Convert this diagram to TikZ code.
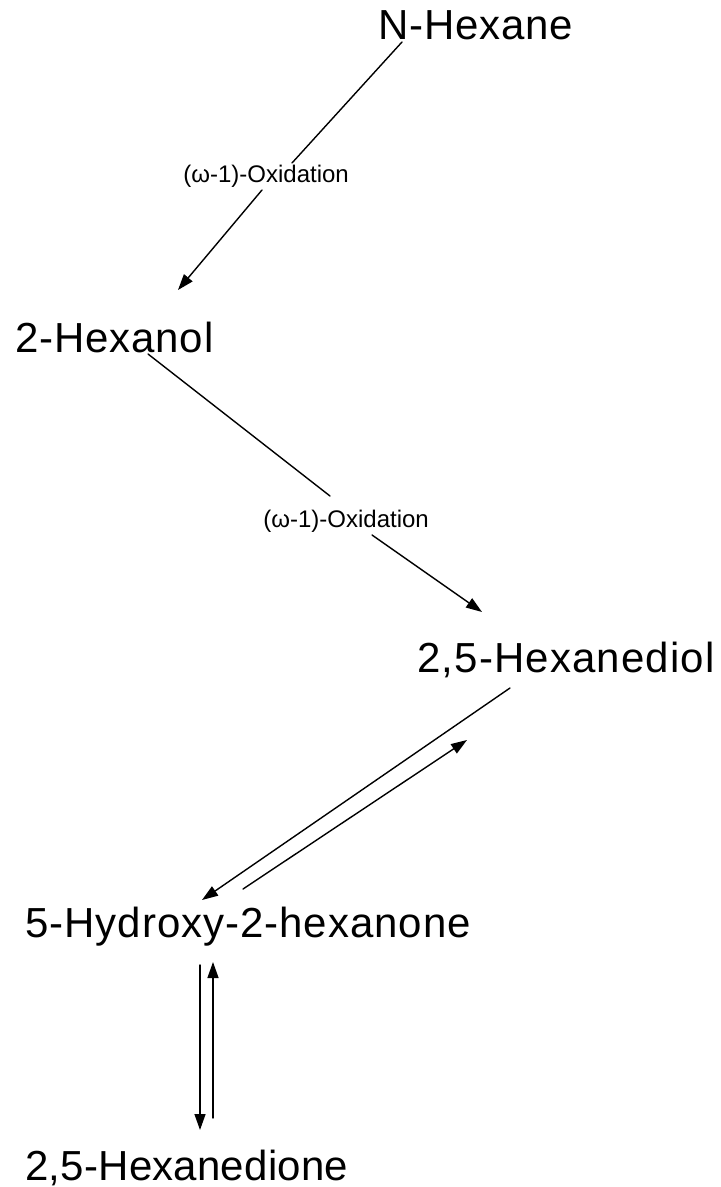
\documentclass[tikz,border=0pt]{standalone}
\usepackage{fontspec}
\setmainfont{Liberation Sans}
\usetikzlibrary{arrows.meta}
\tikzset{x=0.5pt,y=-0.5pt, >={Triangle[length=8pt,width=5.5pt]}}

\begin{document}
\begin{tikzpicture}
% Style
[
    line cap=round,
    compound/.style={anchor=base west, inner sep=0pt,
        font=\fontsize{21}{25}\selectfont\addfontfeature{LetterSpace=#1}},
    compound/.default=2,
    step text/.style={anchor=base west, inner sep=0pt, font=\fontsize{12}{14}\selectfont},
    step line/.style={line width=0.7pt}
]

%=================================== Start ===================================
{
    \useasboundingbox (0,0) rectangle (720,1187);

    % Define: Compounds
    \node[compound]      (nhexane) at (378,  40) {N-Hexane};
    \node[compound]      (hexanol) at ( 15, 352) {2-Hexanol};
    \node[compound=2.7]  (diol)    at (417, 672) {2,5-Hexanediol};
    \node[compound=2.3]  (hydroxy) at ( 25, 937) {5-Hydroxy-2-hexanone};
    \node[compound=0.5]  (dione)   at ( 25,1180) {2,5-Hexanedione};

    % Define: Reaction labels
    \node[step text] (ox1) at (183, 183) {(ω-1)-Oxidation};
    \node[step text] (ox2) at (263, 527) {(ω-1)-Oxidation};

    % Define: Arrow ends
    \coordinate (a1 start) at (402, 42);  \coordinate (a1 gap) at (292,163);
    \coordinate (a1 back)  at (262,190);  \coordinate (a1 tip) at (178,290);
    \coordinate (a2 start) at (148,354);  \coordinate (a2 gap) at (330,496);
    \coordinate (a2 back)  at (372,535);  \coordinate (a2 tip) at (482,612);
    \coordinate (a3 start) at (510,688);  \coordinate (a3 tip) at (202,900);
    \coordinate (a4 start) at (243,889);  \coordinate (a4 tip) at (467,740);
    \coordinate (a5 start) at (200,965);  \coordinate (a5 tip) at (200,1130);
    \coordinate (a6 start) at (213,1118); \coordinate (a6 tip) at (213,962);

    % Draw: Oxidation steps
    \begin{scope}[step line]
        \draw (a1 start) -- (a1 gap);
        \draw[->] (a1 back) -- (a1 tip);
        \draw (a2 start) -- (a2 gap);
        \draw[->] (a2 back) -- (a2 tip);
    \end{scope}

    % Draw: Equilibria
    \begin{scope}[step line]
        \draw[->] (a3 start) -- (a3 tip);
        \draw[->] (a4 start) -- (a4 tip);
        \draw[->] (a5 start) -- (a5 tip);
        \draw[->] (a6 start) -- (a6 tip);
    \end{scope}
}
%==================================== END ====================================

\end{tikzpicture}
\end{document}
